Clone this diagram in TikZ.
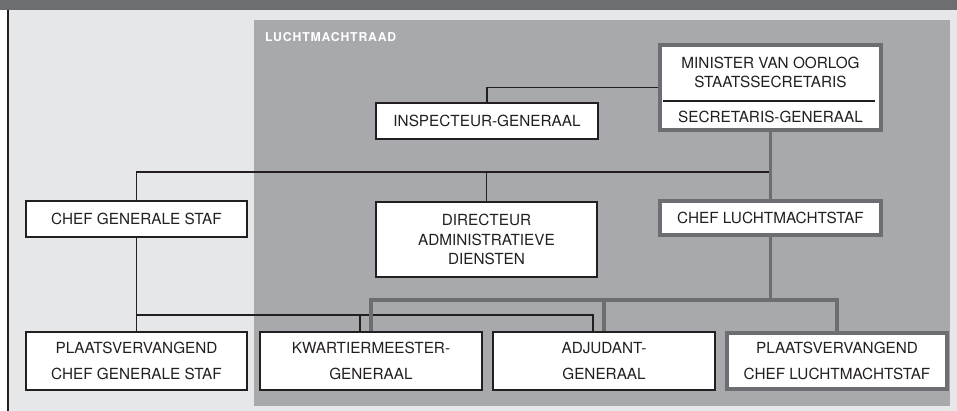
\documentclass[tikz,border=0pt]{standalone}
\usepackage{fontspec}
\setmainfont{TeX Gyre Heros}
\usetikzlibrary{calc}

\definecolor{deep}{HTML}{6D6E71}
\definecolor{council}{HTML}{A7A9AC}
\definecolor{paper}{HTML}{E6E7E8}
\definecolor{ink}{HTML}{231F20}

\tikzset{
  unit/.style={draw=ink, line width=1.1pt, fill=white, inner sep=0pt,
    align=center, text=ink, font=\fontsize{15.3}{19.5}\selectfont},
  heavyunit/.style={unit, draw=deep, line width=3.6pt},
  tallunit/.style={font=\fontsize{15.3}{26}\selectfont},
  orgline/.style={draw=ink, line width=1.1pt},
  heavyline/.style={draw=deep, line width=3.6pt},
  caption/.style={inner sep=0pt, text=ink, font=\fontsize{15.3}{17}\selectfont},
}

\begin{document}
\begin{tikzpicture}[x=1pt, y=-1pt]
\useasboundingbox (0,0) rectangle (957,411);

% frame and shaded areas
\fill[paper] (8,10) rectangle (957,411);
\fill[deep] (0,0) rectangle (957,10);
\draw[ink, line width=1.1pt] (8,10) -- (8,411);
\fill[council] (254,20) rectangle (950,406);
\node[anchor=west, inner sep=0pt, text=white,
      font=\fontsize{12.2}{13}\selectfont\bfseries\addfontfeatures{LetterSpace=7}]
  (raad) at (265,37) {LUCHTMACHTRAAD};

% top level
\node[heavyunit, minimum width=221pt, minimum height=85pt] (mini) at (770.5,87.5) {};
\node[caption] (minA) at (770.5,63) {MINISTER VAN OORLOG};
\node[caption] (minB) at (770.5,82) {STAATSSECRETARIS};
\node[caption] (minC) at (770.5,117) {SECRETARIS-GENERAAL};
\coordinate (sepL) at (663,101);
\coordinate (sepR) at (875,101);
\draw[ink, line width=1.3pt] (sepL) -- (sepR);

\node[unit, minimum width=222pt, minimum height=36pt] (insp) at (487,121) {INSPECTEUR-GENERAAL};

% second level
\node[unit, minimum width=221pt, minimum height=36pt] (cgs) at (136.5,219) {CHEF GENERALE STAF};
\node[unit, minimum width=221pt, minimum height=75pt] (dir) at (486.5,239.5)
  {DIRECTEUR\\ADMINISTRATIEVE\\DIENSTEN};
\node[heavyunit, minimum width=221pt, minimum height=34pt] (cls) at (770.5,218) {CHEF LUCHTMACHTSTAF};

% third level
\node[unit, tallunit, minimum width=221pt, minimum height=58pt] (pvcgs) at (136.5,361)
  {PLAATSVERVANGEND\\CHEF GENERALE STAF};
\node[unit, tallunit, minimum width=222pt, minimum height=58pt] (kw) at (371,361)
  {KWARTIERMEESTER-\\GENERAAL};
\node[unit, tallunit, minimum width=222pt, minimum height=58pt] (adj) at (604,361)
  {ADJUDANT-\\GENERAAL};
\node[heavyunit, tallunit, minimum width=220pt, minimum height=56pt] (pvcls) at (837,361)
  {PLAATSVERVANGEND\\CHEF LUCHTMACHTSTAF};

% bus levels
\coordinate (busA) at (0,172);
\coordinate (busB) at (0,300);
\coordinate (busC) at (0,315);

% thin connectors
\draw[orgline] (insp.north) |- (mini.west);
\draw[orgline] (cgs.north) |- (mini.south |- busA);
\draw[orgline] (dir.north) -- (dir.north |- busA);
\draw[orgline] (cgs.south) -- (pvcgs.north);
\draw[orgline] (cgs.south |- busC) -| ([xshift=-11pt]adj.north);
\draw[orgline] ([xshift=-11pt]kw.north) -- ([xshift=-11pt]kw.north |- busC);

% heavy connectors
\draw[heavyline] (mini.south) -- (cls.north);
\draw[heavyline] (cls.south) -- (cls.south |- busB);
\draw[heavyline, line join=miter] (kw.north) -- (kw.north |- busB) -| (pvcls.north);
\draw[heavyline] (adj.north) -- (adj.north |- busB);
\end{tikzpicture}
\end{document}
